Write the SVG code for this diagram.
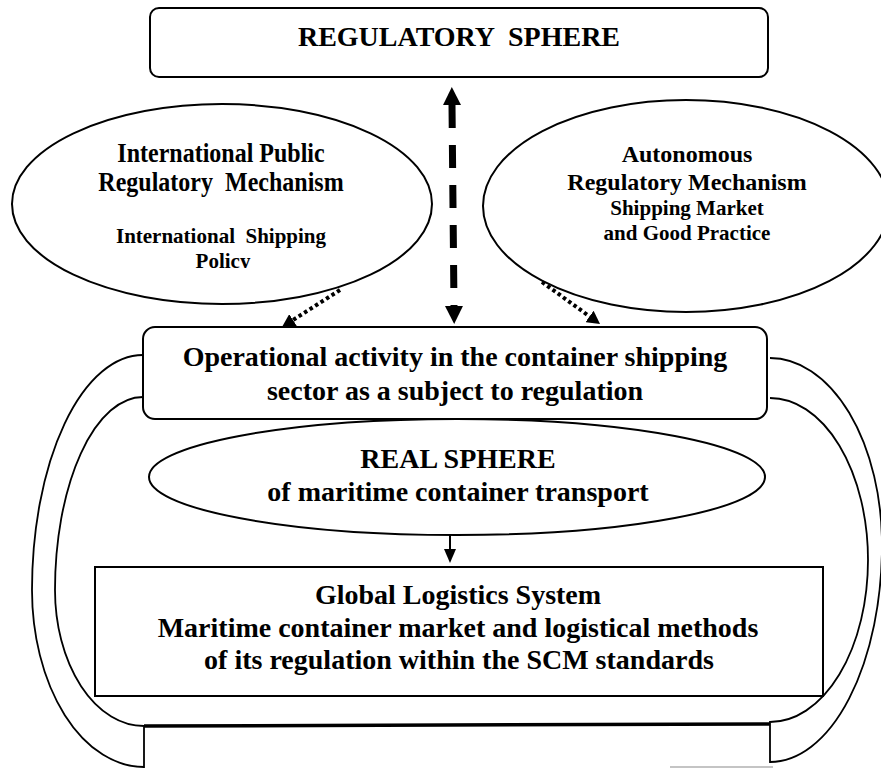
<svg xmlns="http://www.w3.org/2000/svg" width="881" height="769" viewBox="0 0 881 769">
  <style>
    .t { font-family: "Liberation Serif", "Times New Roman", serif; font-weight: bold; fill: #000; text-anchor: middle; white-space: pre; }
    .f28 { font-size: 28px; }
    .f24 { font-size: 24px; }
    .f21 { font-size: 21px; }
    .shape { fill: #fff; stroke: #000; stroke-width: 2; }
    .band { fill: none; stroke: #000; stroke-width: 1.8; }
  </style>
  <defs>
    <marker id="bighead" markerUnits="userSpaceOnUse" markerWidth="18" markerHeight="18" refX="0" refY="9" orient="auto-start-reverse" viewBox="0 0 18 18">
      <path d="M0,0 L18,9 L0,18 z" fill="#000"/>
    </marker>
    <marker id="dothead" markerUnits="userSpaceOnUse" markerWidth="13" markerHeight="14" refX="0" refY="7" orient="auto" viewBox="0 0 13 14">
      <path d="M0,0 L13,7 L0,14 z" fill="#000"/>
    </marker>
    <marker id="smallhead" markerUnits="userSpaceOnUse" markerWidth="14" markerHeight="12" refX="0" refY="6" orient="auto" viewBox="0 0 14 12">
      <path d="M0,0 L14,6 L0,12 z" fill="#000"/>
    </marker>
    <!-- the policy caption is cut just under its baseline -->
    <clipPath id="cut-desc">
      <rect x="150" y="245" width="150" height="23"/>
    </clipPath>
  </defs>

  <!-- side return bands and base line -->
  <g id="loop-bands">
    <path class="band" d="M143,355 A111,235 0 0 0 32,590 A112,177 0 0 0 144,767 L144,726 A89,136 0 0 1 55,590 A88,193 0 0 1 143,397"/>
    <path class="band" d="M770,358 A112,187 0 0 1 882,545 A112,217 0 0 1 770,762 L770,722 A98,162 0 0 0 868,560 A98,162 0 0 0 770,398"/>
    <line x1="144" y1="726" x2="770" y2="724" stroke="#000" stroke-width="3.5"/>
    <line x1="670" y1="767" x2="773" y2="767" stroke="#c4c4c4" stroke-width="2"/>
  </g>

  <g id="regulatory-sphere">
    <rect class="shape" x="150" y="8" width="618" height="69" rx="9" stroke-width="2.5"/>
    <text class="t f28" x="459" y="46">REGULATORY  SPHERE</text>
  </g>

  <g id="public-mechanism">
    <ellipse class="shape" cx="222" cy="204" rx="210" ry="100"/>
    <text class="t f24" transform="translate(221,162) scale(1,1.15)">International Public</text>
    <text class="t f24" transform="translate(221,191) scale(1,1.15)">Regulatory  Mechanism</text>
    <text class="t f21" x="221" y="243">International  Shipping</text>
    <g clip-path="url(#cut-desc)">
      <text class="t f21" x="223" y="267.5">Policy</text>
    </g>
  </g>

  <g id="autonomous-mechanism">
    <ellipse class="shape" cx="686" cy="206" rx="203" ry="106"/>
    <text class="t f24" x="687" y="162">Autonomous</text>
    <text class="t f24" x="687" y="190">Regulatory Mechanism</text>
    <text class="t f21" x="687" y="215">Shipping Market</text>
    <text class="t f21" x="687" y="240">and Good Practice</text>
  </g>

  <g id="operational-activity">
    <rect class="shape" x="143" y="327" width="624" height="92" rx="12"/>
    <text class="t f28" x="455" y="366">Operational activity in the container shipping</text>
    <text class="t f28" x="455" y="400">sector as a subject to regulation</text>
  </g>

  <g id="real-sphere">
    <ellipse class="shape" cx="457" cy="477" rx="308" ry="58" stroke-width="1.8"/>
    <text class="t f28" x="458" y="468">REAL SPHERE</text>
    <text class="t f28" x="458" y="501">of maritime container transport</text>
  </g>

  <g id="global-logistics">
    <rect class="shape" x="95" y="567" width="728" height="129"/>
    <text class="t f28" x="458" y="604">Global Logistics System</text>
    <text class="t f28" x="458" y="637">Maritime container market and logistical methods</text>
    <text class="t f28" x="459" y="669">of its regulation within the SCM standards</text>
  </g>

  <g id="connectors" fill="none" stroke="#000">
    <line x1="452" y1="105" x2="454" y2="306" stroke-width="7" stroke-dasharray="23 17" marker-start="url(#bighead)" marker-end="url(#bighead)"/>
    <line x1="340" y1="290" x2="293" y2="320" stroke-width="4" stroke-dasharray="3.5 3" marker-end="url(#dothead)"/>
    <line x1="542" y1="282" x2="589.5" y2="316.4" stroke-width="4" stroke-dasharray="3.5 3" marker-end="url(#dothead)"/>
    <line x1="450" y1="535" x2="450" y2="549" stroke-width="2" marker-end="url(#smallhead)"/>
  </g>
</svg>
